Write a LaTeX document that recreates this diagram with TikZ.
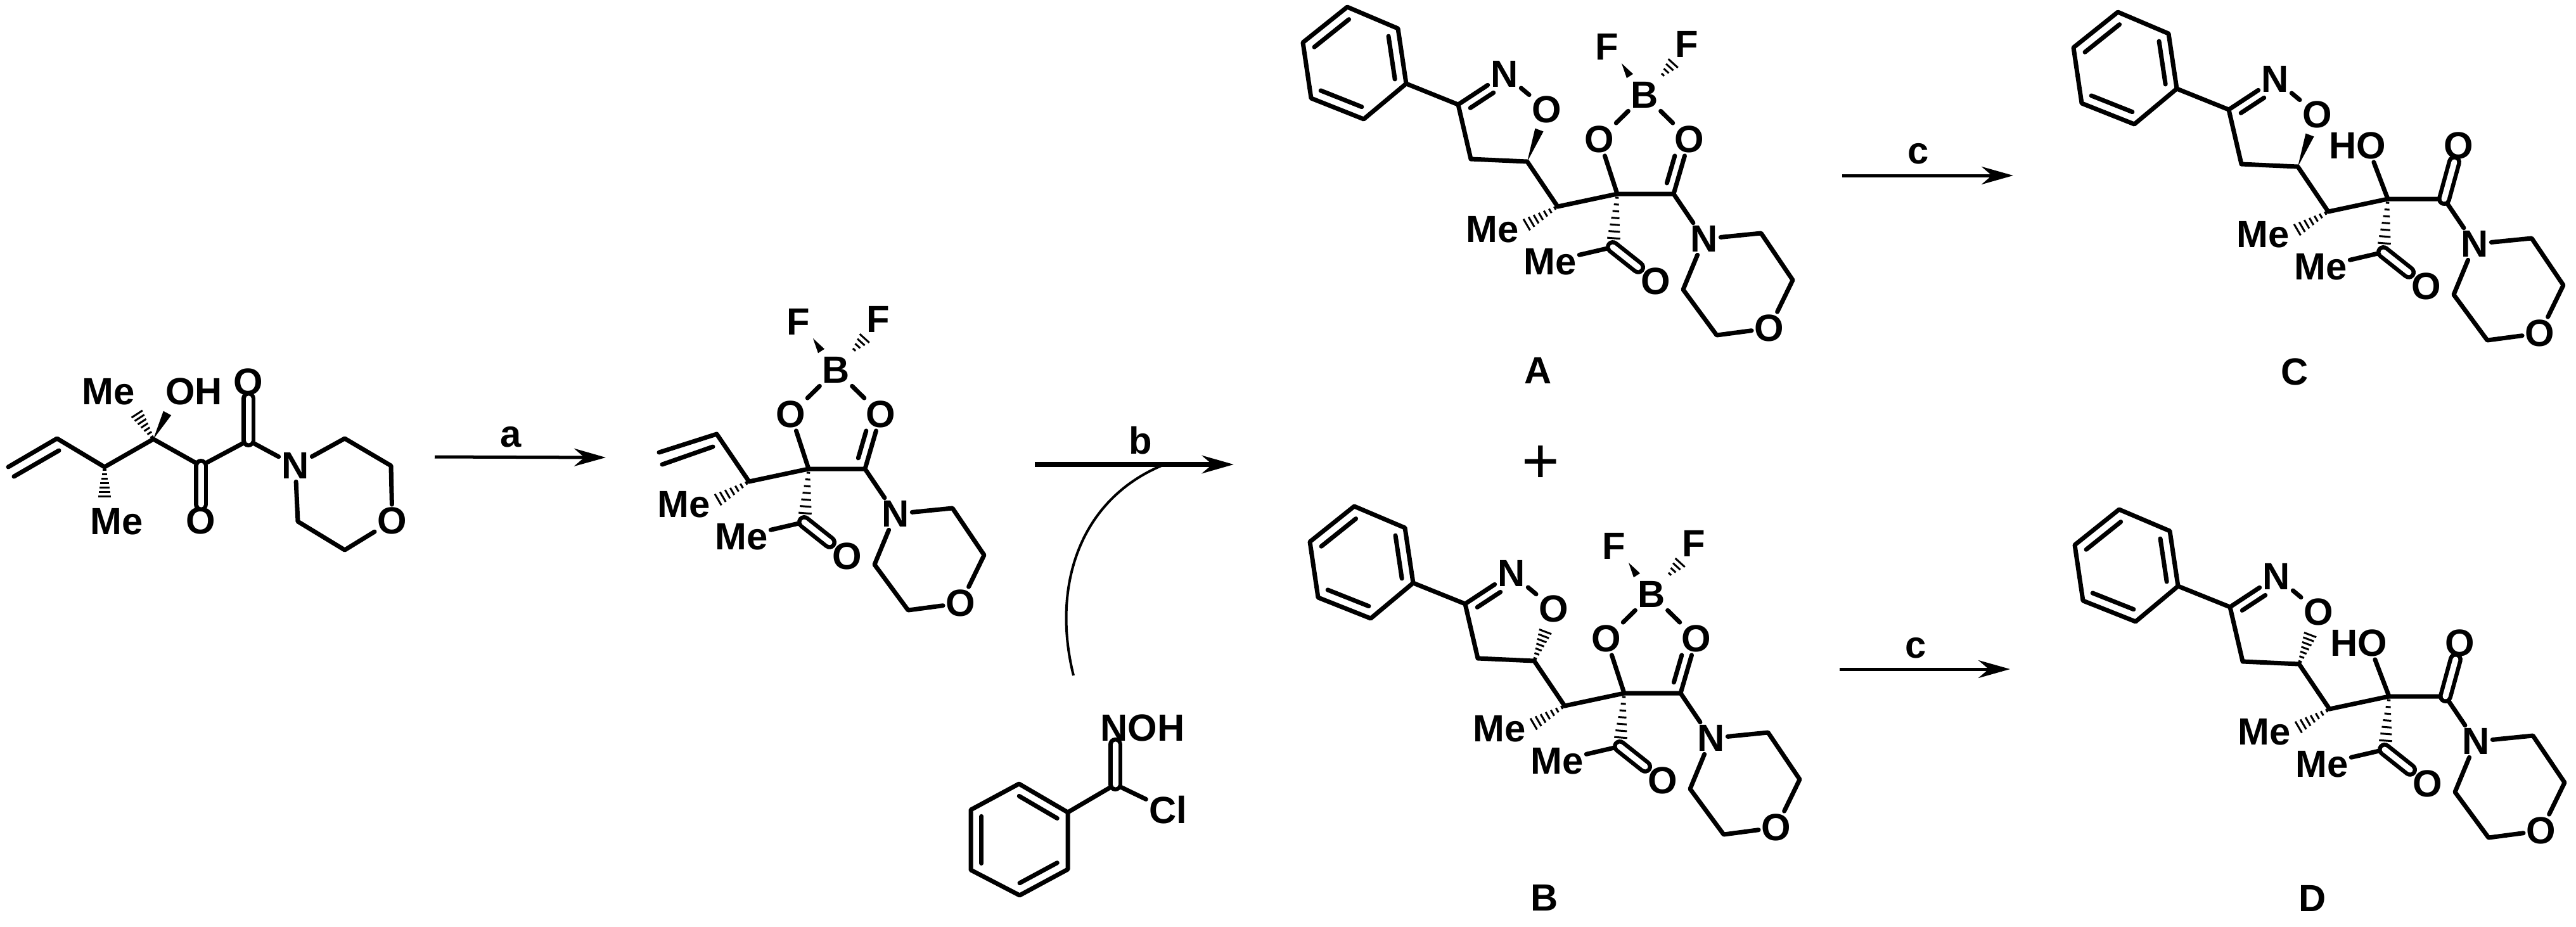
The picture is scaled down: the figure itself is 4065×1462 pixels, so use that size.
\documentclass[tikz,border=0pt]{standalone}
\usepackage{fontspec}
\setmainfont{Liberation Sans}
\usetikzlibrary{arrows.meta,calc}
\tikzset{
    atom/.style={inner sep=.04cm, font=\fontsize{17}{20}\selectfont\bfseries},
    plus/.style={inner sep=0pt, font=\fontsize{29}{30}\selectfont},
    bond/.style={line width=.07cm, line cap=round, line join=round},
    dbond/.style={line width=.065cm, double, double distance=.09cm},
    rxn/.style={-{Stealth[length=.5cm,width=.28cm]}, line width=.05cm},
}
% inner line of an aromatic ring
\newcommand{\ringline}[3]{\draw[bond] ($(#1)!.22!(#3)$) -- ($(#2)!.22!(#3)$);}
% double bond with the second line on one side
\newcommand{\dblbond}[3]{\draw[bond] (#1) -- (#2);
    \draw[bond] ($(#1)!.15!(#2)!.15cm!#3:(#2)$) -- ($(#1)!.65!(#2)!.15cm!#3:(#2)$);}
\newcommand{\wedgebond}[3][.07cm]{\fill ($(#2)$) -- ($(#3)!#1!90:(#2)$) -- ($(#3)!#1!-90:(#2)$) -- cycle;}
\newcommand{\hashbond}[3][.08,.22,.36,.5,.64,.78,.92]{\foreach \t [evaluate=\t as \w using \t*.09+.02] in {#1}
    \draw[line width=.03cm] ($(#2)!\t!(#3)!\w cm!90:(#3)$) -- ($(#2)!\t!(#3)!\w cm!-90:(#3)$);}
% acetyl, amide and morpholine part
\newcommand{\ketomorph}[1]{
    \coordinate (#1Cq) at (2552,306);
    \coordinate (#1CO) at (2641,306);
    \coordinate (#1CH) at (2458,326);
    \coordinate (#1Ac) at (2545,390);
    \coordinate (#1MeEnd) at (2405,357);
    \coordinate (#1AcEnd) at (2546,382);
    \node[atom] (#1Me) at (2355,362) {Me};
    \node[atom] (#1MeAc) at (2446,413) {Me};
    \node[atom] (#1OAc) at (2613,444) {O};
    \node[atom] (#1N) at (2689,377) {N};
    \coordinate (#1M1) at (2779,368);
    \coordinate (#1M2) at (2829,442);
    \node[atom] (#1OM) at (2792,518) {O};
    \coordinate (#1M3) at (2709,529);
    \coordinate (#1M4) at (2656,457);
    \draw[bond] (#1CH) -- (#1Cq) -- (#1CO) -- (#1N);
    \draw[bond] (#1N) -- (#1M1) -- (#1M2) -- (#1OM) -- (#1M3) -- (#1M4) -- (#1N);
    \draw[bond] (#1MeAc) -- (#1Ac);
    \draw[bond,dbond] (#1Ac) -- (#1OAc);
    \hashbond{#1CH}{#1MeEnd}
    \hashbond{#1Cq}{#1AcEnd}
}
% difluoroboron ring
\newcommand{\boronring}[1]{
    \node[atom] (#1B) at (2595,150) {B};
    \node[atom] (#1O1) at (2524,220) {O};
    \node[atom] (#1O2) at (2666,220) {O};
    \node[atom] (#1F1) at (2536,74) {F};
    \node[atom] (#1F2) at (2662,70) {F};
    \coordinate (#1W1) at (2559,100);
    \coordinate (#1W2) at (2572,120);
    \coordinate (#1H1) at (2622,120);
    \coordinate (#1H2) at (2642,98);
    \draw[bond] (#1O1) -- (#1B) -- (#1O2);
    \draw[bond] (#1Cq) -- (#1O1);
    \dblbond{#1CO}{#1O2}{90}
    \wedgebond[.06cm]{#1W1}{#1W2}
    \hashbond[.1,.37,.64,.91]{#1H1}{#1H2}
}
% free hydroxy ketone
\newcommand{\hydroxy}[1]{
    \node[atom] (#1OH) at (2504,222) {HO};
    \node[atom] (#1O2) at (2664,222) {O};
    \draw[bond] (#1Cq) -- (#1OH.-45);
    \draw[bond,dbond] (#1CO) -- (#1O2);
}
% phenyl isoxazoline part, #2 is the bond from CH to ring O
\newcommand{\isoxazoline}[2]{
    \coordinate (#1P1) at (2126,11);
    \coordinate (#1P2) at (2206,45);
    \coordinate (#1P3) at (2219,132);
    \coordinate (#1P4) at (2152,188);
    \coordinate (#1P5) at (2069,155);
    \coordinate (#1P6) at (2056,67);
    \coordinate (#1Pc) at (2138,100);
    \coordinate (#1CN) at (2301,165);
    \node[atom] (#1NI) at (2374,117) {N};
    \node[atom] (#1OI) at (2441,173) {O};
    \coordinate (#1C4) at (2321,251);
    \coordinate (#1C5) at (2410,255);
    \coordinate (#1C5End) at (2429,205);
    \draw[bond] (#1P1) -- (#1P2) -- (#1P3) -- (#1P4) -- (#1P5) -- (#1P6) -- cycle;
    \ringline{#1P6}{#1P1}{#1Pc}
    \ringline{#1P2}{#1P3}{#1Pc}
    \ringline{#1P4}{#1P5}{#1Pc}
    \draw[bond] (#1P3) -- (#1CN) -- (#1C4) -- (#1C5) -- (#1CH);
    \dblbond{#1CN}{#1NI}{-90}
    \draw[bond] (#1NI) -- (#1OI);
    #2{#1C5}{#1C5End}
}
\begin{document}
\begin{tikzpicture}[x=.01cm, y=-.01cm]
    \useasboundingbox (0,0) rectangle (4065,1462);
    % starting material
    \coordinate (kV1) at (13,737);
    \coordinate (kV2) at (90,692);
    \coordinate (kV3) at (22,752);
    \coordinate (kV4) at (93,711);
    \coordinate (kC3) at (165,737);
    \coordinate (kC4) at (242,693);
    \coordinate (kC5) at (317,735);
    \coordinate (kC6) at (392,695);
    \node[atom] (kMe1) at (171,618) {Me};
    \node[atom] (kOH) at (306,618) {OH};
    \node[atom] (kO1) at (392,603) {O};
    \node[atom] (kO2) at (317,822) {O};
    \node[atom] (kMe2) at (184,823) {Me};
    \node[atom] (kN) at (466,735) {N};
    \coordinate (kM1) at (544,692);
    \coordinate (kM2) at (617,735);
    \node[atom] (kOM) at (619,822) {O};
    \coordinate (kM3) at (544,868);
    \coordinate (kM4) at (470,823);
    \coordinate (kWedge) at (264,652);
    \coordinate (kHash1) at (214,650);
    \coordinate (kHash2) at (165,787);
    \draw[bond] (kV1) -- (kV2) -- (kC3) -- (kC4) -- (kC5) -- (kC6) -- (kN);
    \draw[bond] (kV3) -- (kV4);
    \draw[bond,dbond] (kC6) -- (kO1);
    \draw[bond,dbond] (kC5) -- (kO2);
    \draw[bond] (kN) -- (kM1) -- (kM2) -- (kOM) -- (kM3) -- (kM4) -- (kN);
    \wedgebond{kC4}{kWedge}
    \hashbond{kC4}{kHash1}
    \hashbond{kC3}{kHash2}
    % first arrow
    \coordinate (a0) at (686,721);
    \coordinate (a1) at (956,722);
    \draw[rxn] (a0) -- (a1);
    \node[atom] (aLabel) at (806,690) {a};
    % boron intermediate
    \begin{scope}[shift={(-1276,434)}]
        \ketomorph{i}
        \boronring{i}
        \coordinate (iV1) at (2316,280);
        \coordinate (iV2) at (2407,251);
        \coordinate (iV3) at (2321,299);
        \coordinate (iV4) at (2401,271);
        \draw[bond] (iV1) -- (iV2) -- (iCH);
        \draw[bond] (iV3) -- (iV4);
    \end{scope}
    % second arrow and the oxime
    \coordinate (b0) at (1633,733);
    \coordinate (b1) at (1947,733);
    \draw[rxn, line width=.08cm] (b0) -- (b1);
    \node[atom] (bLabel) at (1800,695) {b};
    \coordinate (bIn0) at (1694,1066);
    \coordinate (bIn1) at (1835,734);
    \draw[line width=.04cm] (bIn0) .. controls (1660,930) and (1700,790) .. (bIn1);
    \coordinate (r1) at (1608,1237);
    \coordinate (r2) at (1685,1282);
    \coordinate (r3) at (1685,1372);
    \coordinate (r4) at (1609,1413);
    \coordinate (r5) at (1532,1373);
    \coordinate (r6) at (1532,1278);
    \coordinate (rc) at (1609,1325);
    \coordinate (rC) at (1760,1238);
    \node[atom] (rNOH) at (1803,1149) {NOH};
    \node[atom] (rCl) at (1843,1278) {Cl};
    \draw[bond] (r1) -- (r2) -- (r3) -- (r4) -- (r5) -- (r6) -- cycle;
    \ringline{r1}{r2}{rc}
    \ringline{r3}{r4}{rc}
    \ringline{r5}{r6}{rc}
    \draw[bond] (r2) -- (rC) -- (rCl);
    \draw[bond,dbond] (rC) -- (rNOH.south -| rC);
    % products
    \begin{scope}
        \ketomorph{A}
        \boronring{A}
        \isoxazoline{A}{\wedgebond}
    \end{scope}
    \node[atom] (labelA) at (2427,585) {A};
    \begin{scope}[shift={(11,788)}]
        \ketomorph{B}
        \boronring{B}
        \isoxazoline{B}{\hashbond}
    \end{scope}
    \node[atom] (labelB) at (2437,1417) {B};
    \node[plus] (plusAB) at (2431,733) {+};
    \begin{scope}[shift={(1216,8)}]
        \ketomorph{C}
        \hydroxy{C}
        \isoxazoline{C}{\wedgebond}
    \end{scope}
    \node[atom] (labelC) at (3621,587) {C};
    \begin{scope}[shift={(1218,793)}]
        \ketomorph{D}
        \hydroxy{D}
        \isoxazoline{D}{\hashbond}
    \end{scope}
    \node[atom] (labelD) at (3649,1418) {D};
    % last arrows
    \coordinate (c0) at (2907,277);
    \coordinate (c1) at (3177,277);
    \coordinate (d0) at (2903,1056);
    \coordinate (d1) at (3172,1056);
    \draw[rxn] (c0) -- (c1);
    \draw[rxn] (d0) -- (d1);
    \node[atom] (cLabel) at (3027,243) {c};
    \node[atom] (dLabel) at (3023,1023) {c};
\end{tikzpicture}
\end{document}
